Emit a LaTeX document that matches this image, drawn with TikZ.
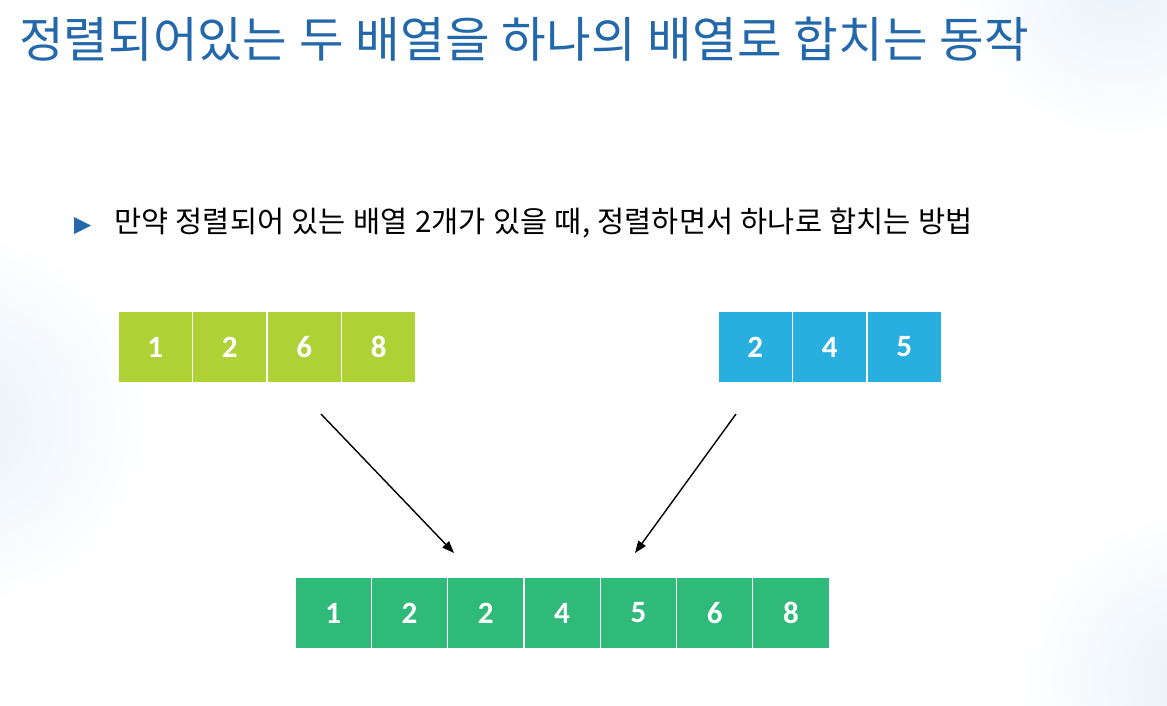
\documentclass[tikz,border=0pt]{standalone}
\usepackage{fontspec}
\usepackage{xcolor}
\usepackage{tikz}
\usetikzlibrary{arrows.meta, positioning}

\newfontfamily\krtitle{Noto Sans CJK KR}[WordSpace=1.35]
\newfontfamily\krnarrow{Noto Sans CJK KR}[WordSpace=1.12]
\newfontfamily\numfont{Carlito}

\definecolor{titleblue}{RGB}{36,104,172}
\definecolor{limegreen}{RGB}{174,210,54}
\definecolor{skyblue}{RGB}{41,174,224}
\definecolor{mergegreen}{RGB}{48,186,122}
\definecolor{haze}{RGB}{232,242,250}

\tikzset{
  cell/.style={minimum width=74.5pt, minimum height=72pt, inner sep=0pt,
    draw=white, line width=1.2pt, text=white, font=\numfont\bfseries\fontsize{31}{34}\selectfont},
  greencell/.style={cell, fill=limegreen},
  bluecell/.style={cell, fill=skyblue},
  mergecell/.style={cell, fill=mergegreen, minimum width=76.3pt},
  mergearrow/.style={line width=1.4pt, -{Triangle[length=12pt,width=9pt]}}
}

\begin{document}
\begin{tikzpicture}[x=1pt, y=-1pt]
        % page frame
        \fill[white] (0,0) rectangle (1167,705);
        \useasboundingbox (0,0) rectangle (1167,705);
        % faint background tint
        \begin{scope}
          \clip (0,0) rectangle (1167,705);
          \shade[inner color=haze, outer color=white] (-40,420) circle (190);
          \shade[inner color=haze, outer color=white] (1120,-20) circle (160);
          \shade[inner color=haze, outer color=white] (1190,680) circle (170);
        \end{scope}

        % title and bullet line
        \node[anchor=west, text=titleblue, font=\krtitle\fontsize{48.5}{56}\selectfont, inner sep=0pt] (title) at (19,39)
          {정렬되어있는 두 배열을 하나의 배열로 합치는 동작};
        \fill[titleblue] (74,217) -- (91,225.5) -- (74,234) -- cycle;
        \node[anchor=west, font=\krnarrow\fontsize{29.5}{34}\selectfont, inner sep=0pt] (intro) at (114,223)
          {만약 정렬되어 있는 배열 2개가 있을 때, 정렬하면서 하나로 합치는 방법};

        % first sorted array
        \foreach \v [count=\i] in {1,2,6,8}
          \node[greencell] (a\i) at ({118+74.5*(\i-0.5)},347) {\v};

        % second sorted array
        \foreach \v [count=\i] in {2,4,5}
          \node[bluecell] (b\i) at ({718+74.5*(\i-0.5)},347) {\v};

        % merged array
        \foreach \v [count=\i] in {1,2,2,4,5,6,8}
          \node[mergecell] (m\i) at ({295+76.3*(\i-0.5)},613) {\v};

        % merge arrows
        \coordinate (fromA) at (321,414);
        \coordinate (toA) at (454,553);
        \coordinate (fromB) at (736,414);
        \coordinate (toB) at (635,553);
        \draw[mergearrow] (fromA) -- (toA);
        \draw[mergearrow] (fromB) -- (toB);
      \end{tikzpicture}
\end{document}
